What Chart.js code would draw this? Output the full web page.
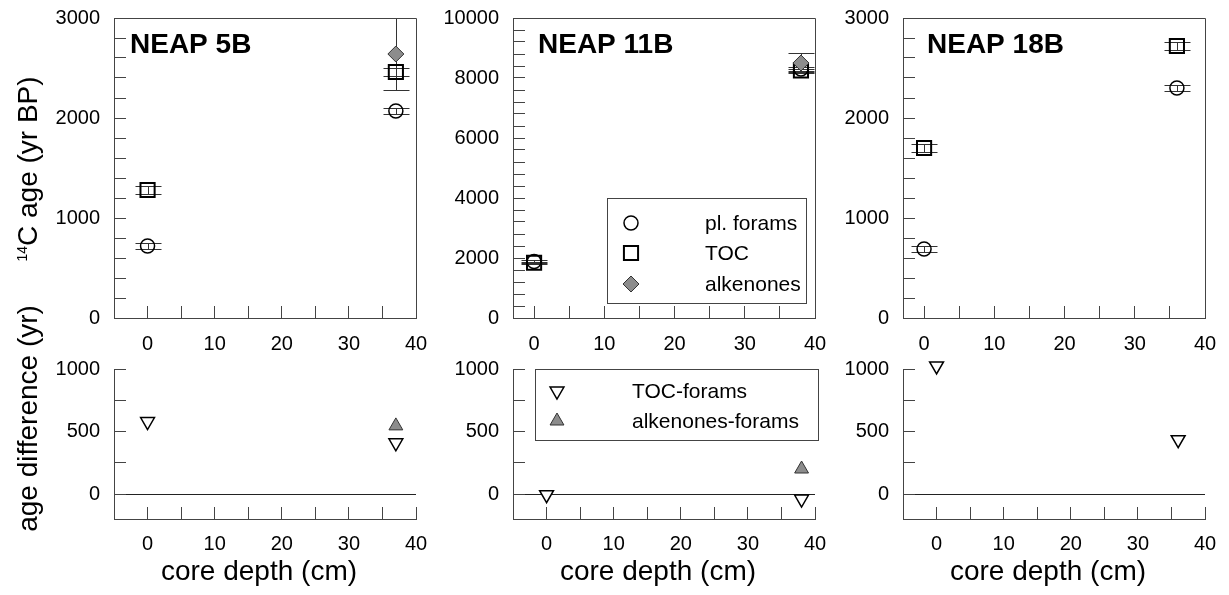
<!DOCTYPE html>
<html>
<head>
<meta charset="utf-8">
<script src="https://cdn.jsdelivr.net/npm/chart.js@4.4.1/dist/chart.umd.min.js"></script>
<style>
  body { margin: 0; background: #fff; }
  #wrap { position: relative; width: 1229px; height: 595px; overflow: hidden; }
  canvas { position: absolute; }
</style>
</head>
<body>
<div id="wrap">
  <canvas id="top5" width="440" height="360" style="left:0px;top:0px"></canvas>
  <canvas id="top11" width="400" height="360" style="left:440px;top:0px"></canvas>
  <canvas id="top18" width="389" height="360" style="left:840px;top:0px"></canvas>
  <canvas id="bot5" width="440" height="295" style="left:0px;top:300px"></canvas>
  <canvas id="bot11" width="400" height="295" style="left:440px;top:300px"></canvas>
  <canvas id="bot18" width="389" height="295" style="left:840px;top:300px"></canvas>
</div>
<script>
// tick values
const depthTicks = [-5, 0, 5, 10, 15, 20, 25, 30, 35, 40];
const depthLabels = [0, 10, 20, 30, 40];
const ageTicks3000 = [0, 200, 400, 600, 800, 1000, 1200, 1400, 1600, 1800, 2000, 2200, 2400, 2600, 2800, 3000];
const ageLabels3000 = [0, 1000, 2000, 3000];
const ageTicks10000 = [0, 400, 800, 1200, 1600, 2000, 2400, 2800, 3200, 3600, 4000, 4400, 4800, 5200, 5600, 6000,
  6400, 6800, 7200, 7600, 8000, 8400, 8800, 9200, 9600, 10000];
const ageLabels10000 = [0, 2000, 4000, 6000, 8000, 10000];
const diffTicks = [0, 250, 500, 750, 1000];
const diffLabels = [0, 500, 1000];

// NEAP 5B
const depth5B = [0, 37];
const forams5B = [720, 2070];
const forams5BErr = [33, 33];
const toc5B = [1280, 2460];
const toc5BErr = [40, 42];
const alkDepth5B = [37];
const alk5B = [2640];
const alk5BErr = [360];
const tocForams5B = [580, 410];
const alkForams5B = [545];

// NEAP 11B
const depth11B = [0, 38];
const forams11B = [1880, 8300];
const forams11BErr = [40, 60];
const toc11B = [1840, 8250];
const toc11BErr = [40, 60];
const alkDepth11B = [38];
const alk11B = [8500];
const alk11BErr = [320];
const tocForams11B = [-5, -40];
const alkForams11B = [200];

// NEAP 18B
const depth18B = [0, 36];
const forams18B = [690, 2300];
const forams18BErr = [30, 28];
const toc18B = [1700, 2720];
const toc18BErr = [43, 37];
const tocForams18B = [1025, 435];

const AXIS = '#444';
const GREY = '#8c8c8c';
const FONT = "'Liberation Sans', Arial, sans-serif";

Chart.defaults.font.family = FONT;
Chart.defaults.font.size = 20;
Chart.defaults.color = '#000';

const foramsStyle = { pointStyle: 'circle', pointRadius: 7, pointBackgroundColor: 'rgba(0,0,0,0)', pointBorderColor: '#000', pointBorderWidth: 1.5 };
const tocStyle = { pointStyle: 'rect', pointRadius: 10, pointBackgroundColor: 'rgba(0,0,0,0)', pointBorderColor: '#000', pointBorderWidth: 2 };
const alkStyle = { pointStyle: 'rectRot', pointRadius: 8, pointBackgroundColor: GREY, pointBorderColor: '#333', pointBorderWidth: 1 };
const tocForStyle = { pointStyle: 'triangle', pointRotation: 180, pointRadius: 8, pointBackgroundColor: '#fff', pointBorderColor: '#000', pointBorderWidth: 1.5 };
const alkForStyle = { pointStyle: 'triangle', pointRotation: 0, pointRadius: 8, pointBackgroundColor: GREY, pointBorderColor: '#333', pointBorderWidth: 1 };

function pts(xs, ys) {
  return xs.map((x, i) => ({ x: x, y: ys[i] }));
}

function series(label, xs, ys, style, order, errs) {
  return Object.assign({ label: label, data: pts(xs, ys), clip: false, order: order, errors: errs,
    pointHoverRadius: style.pointRadius }, style);
}

// error bars: vertical line with caps, drawn under the markers
const errorBars = {
  id: 'errorBars',
  beforeDatasetsDraw(chart) {
    const { ctx, chartArea: a, scales: { x, y } } = chart;
    ctx.save();
    ctx.beginPath();
    ctx.rect(a.left, a.top - 1, a.width, a.height + 1);
    ctx.clip();
    ctx.strokeStyle = '#333';
    ctx.lineWidth = 1;
    chart.data.datasets.forEach(ds => {
      if (!ds.errors) return;
      ds.data.forEach((p, i) => {
        const px = Math.round(x.getPixelForValue(p.x)) + 0.5;
        const y1 = Math.round(y.getPixelForValue(p.y + ds.errors[i])) + 0.5;
        const y2 = Math.round(y.getPixelForValue(p.y - ds.errors[i])) + 0.5;
        ctx.beginPath();
        ctx.moveTo(px, y1); ctx.lineTo(px, y2);
        ctx.moveTo(px - 13, y1); ctx.lineTo(px + 13, y1);
        ctx.moveTo(px - 13, y2); ctx.lineTo(px + 13, y2);
        ctx.stroke();
      });
    });
    ctx.restore();
  }
};

// frame, panel title, boxed legend and axis titles
const extras = {
  id: 'extras',
  afterDraw(chart, args, opts) {
    const { ctx, chartArea: a } = chart;
    ctx.save();
    if (opts.frame) {
      ctx.strokeStyle = AXIS;
      ctx.lineWidth = 1;
      ctx.beginPath();
      ctx.moveTo(Math.round(a.left), Math.round(a.top) + 0.5);
      ctx.lineTo(Math.round(a.right) + 0.5, Math.round(a.top) + 0.5);
      ctx.lineTo(Math.round(a.right) + 0.5, Math.round(a.bottom));
      ctx.stroke();
    }
    if (opts.title) {
      ctx.fillStyle = '#000';
      ctx.font = 'bold 28px ' + FONT;
      ctx.textBaseline = 'alphabetic';
      ctx.textAlign = 'left';
      ctx.fillText(opts.title.text, a.left + opts.title.dx, a.top + 35);
    }
    if (opts.legend) {
      const lg = opts.legend;
      const bx = a.left + lg.left, by = a.top + lg.top;
      const bw = a.right + lg.right - bx, bh = lg.height;
      ctx.fillStyle = '#fff';
      ctx.fillRect(bx, by, bw, bh);
      ctx.strokeStyle = AXIS;
      ctx.lineWidth = 1;
      ctx.strokeRect(Math.round(bx) + 0.5, Math.round(by) + 0.5, Math.round(bw), Math.round(bh));
      lg.items.forEach(it => {
        const st = it.style;
        ctx.fillStyle = st.pointBackgroundColor;
        ctx.strokeStyle = st.pointBorderColor;
        ctx.lineWidth = st.pointBorderWidth;
        Chart.helpers.drawPoint(ctx, { pointStyle: st.pointStyle, radius: st.pointRadius,
          rotation: st.pointRotation || 0, borderWidth: st.pointBorderWidth }, bx + lg.markerX, by + it.dy);
        ctx.fillStyle = '#000';
        ctx.font = '21px ' + FONT;
        ctx.textAlign = 'left';
        ctx.textBaseline = 'middle';
        ctx.fillText(it.text, bx + lg.textX, by + it.dy + 1);
      });
    }
    if (opts.yTitle) {
      const t = opts.yTitle;
      ctx.translate(t.x, t.y);
      ctx.rotate(-Math.PI / 2);
      ctx.fillStyle = '#000';
      ctx.textBaseline = 'alphabetic';
      ctx.textAlign = 'left';
      let total = 0;
      t.parts.forEach(p => { ctx.font = p.size + 'px ' + FONT; total += ctx.measureText(p.text).width; });
      let cx = -total / 2;
      t.parts.forEach(p => {
        ctx.font = p.size + 'px ' + FONT;
        ctx.fillText(p.text, cx, -(p.rise || 0));
        cx += ctx.measureText(p.text).width;
      });
      ctx.setTransform(1, 0, 0, 1, 0, 0);
    }
    if (opts.xTitle) {
      ctx.fillStyle = '#000';
      ctx.font = '28px ' + FONT;
      ctx.textAlign = 'center';
      ctx.textBaseline = 'middle';
      ctx.fillText(opts.xTitle.text, (a.left + a.right) / 2 + opts.xTitle.dx, opts.xTitle.y);
    }
    ctx.restore();
  }
};

function depthAxis(min, height, pad) {
  return {
    type: 'linear', min: min, max: 40,
    afterBuildTicks: s => { s.ticks = depthTicks.filter(v => v >= min && v <= 40).map(v => ({ value: v })); },
    afterFit: s => { s.height = height; s.paddingLeft = 0; s.paddingRight = 0; },
    grid: { drawOnChartArea: false, tickLength: -12, tickColor: AXIS, tickWidth: 1 },
    border: { color: AXIS, width: 1 },
    ticks: { padding: pad, maxRotation: 0, autoSkip: false, font: { size: 20 },
      callback: v => depthLabels.includes(v) ? String(v) : '' }
  };
}

function valueAxis(min, max, tickVals, labelVals, width, zeroLine) {
  return {
    type: 'linear', min: min, max: max,
    afterBuildTicks: s => { s.ticks = tickVals.map(v => ({ value: v })); },
    afterFit: s => { s.width = width; s.paddingTop = 0; s.paddingBottom = 0; },
    grid: {
      drawOnChartArea: !!zeroLine, tickLength: -12, tickColor: AXIS, tickWidth: 1,
      color: c => (zeroLine && c.tick && c.tick.value === 0) ? '#222' : 'rgba(0,0,0,0)'
    },
    border: { color: AXIS, width: 1 },
    ticks: { padding: 26, autoSkip: false, font: { size: 20 },
      callback: v => labelVals.includes(v) ? String(v) : '' }
  };
}

function makeChart(id, W, plotLeft, plotRight, topPad, xHeight, xMin, xPad, yAxis, datasets, extraOpts) {
  const pad = { left: 0, top: topPad, right: W - plotRight, bottom: 0 };
  const chart = new Chart(document.getElementById(id), {
    type: 'scatter',
    data: { datasets: datasets },
    options: {
      responsive: false,
      devicePixelRatio: 1,
      animation: false,
      events: [],
      layout: { padding: pad },
      scales: { x: depthAxis(xMin, xHeight, xPad), y: yAxis },
      plugins: { legend: { display: false }, tooltip: { enabled: false }, extras: extraOpts }
    },
    plugins: [errorBars, extras]
  });
  // nudge the padding so the plot area lands exactly where the reference has it
  for (let k = 0; k < 3; k++) {
    const a = chart.chartArea;
    const dr = a.right - plotRight, dt = topPad - a.top;
    if (Math.abs(dr) < 0.5 && Math.abs(dt) < 0.5) break;
    pad.right += dr;
    pad.top += dt;
    chart.options.layout.padding = Object.assign({}, pad);
    chart.update();
  }
  return chart;
}

// top row: radiocarbon ages
makeChart('top5', 440, 416, 416, 18, 42, -5, 26,
  valueAxis(0, 3000, ageTicks3000, ageLabels3000, 114),
  [series('pl. forams', depth5B, forams5B, foramsStyle, 2, forams5BErr),
   series('TOC', depth5B, toc5B, tocStyle, 1, toc5BErr),
   series('alkenones', alkDepth5B, alk5B, alkStyle, 0, alk5BErr)],
  { frame: true, title: { text: 'NEAP 5B', dx: 16 },
    yTitle: { x: 36.5, y: 169, parts: [{ text: '14', size: 14, rise: 9.8 }, { text: 'C age (yr BP)', size: 28 }] } });

makeChart('top11', 400, 375, 375, 18, 42, -3, 26,
  valueAxis(0, 10000, ageTicks10000, ageLabels10000, 73),
  [series('pl. forams', depth11B, forams11B, foramsStyle, 2, forams11BErr),
   series('TOC', depth11B, toc11B, tocStyle, 1, toc11BErr),
   series('alkenones', alkDepth11B, alk11B, alkStyle, 0, alk11BErr)],
  { frame: true, title: { text: 'NEAP 11B', dx: 25 },
    legend: { left: 94, right: -9, top: 180, height: 105, markerX: 24, textX: 98,
      items: [{ text: 'pl. forams', style: foramsStyle, dy: 25 },
              { text: 'TOC', style: tocStyle, dy: 55 },
              { text: 'alkenones', style: alkStyle, dy: 86 }] } });

makeChart('top18', 389, 365, 365, 18, 42, -3, 26,
  valueAxis(0, 3000, ageTicks3000, ageLabels3000, 63),
  [series('pl. forams', depth18B, forams18B, foramsStyle, 2, forams18BErr),
   series('TOC', depth18B, toc18B, tocStyle, 1, toc18BErr)],
  { frame: true, title: { text: 'NEAP 18B', dx: 24 } });

// bottom row: age differences
makeChart('bot5', 440, 416, 416, 69, 76, -5, 25,
  valueAxis(-200, 1000, diffTicks, diffLabels, 114, true),
  [series('TOC-forams', depth5B, tocForams5B, tocForStyle, 1),
   series('alkenones-forams', alkDepth5B, alkForams5B, alkForStyle, 0)],
  { yTitle: { x: 37, y: 118.5, parts: [{ text: 'age difference (yr)', size: 28 }] },
    xTitle: { text: 'core depth (cm)', dx: -6, y: 272 } });

makeChart('bot11', 400, 375, 375, 69, 76, -5, 25,
  valueAxis(-200, 1000, diffTicks, diffLabels, 73, true),
  [series('TOC-forams', depth11B, tocForams11B, tocForStyle, 1),
   series('alkenones-forams', alkDepth11B, alkForams11B, alkForStyle, 0)],
  { xTitle: { text: 'core depth (cm)', dx: -6, y: 272 },
    legend: { left: 22, right: 3, top: 0, height: 71, markerX: 22, textX: 97,
      items: [{ text: 'TOC-forams', style: tocForStyle, dy: 22 },
              { text: 'alkenones-forams', style: alkForStyle, dy: 52 }] } });

makeChart('bot18', 389, 365, 365, 69, 76, -5, 25,
  valueAxis(-200, 1000, diffTicks, diffLabels, 63, true),
  [series('TOC-forams', depth18B, tocForams18B, tocForStyle, 1)],
  { xTitle: { text: 'core depth (cm)', dx: -6, y: 272 } });
</script>
</body>
</html>
